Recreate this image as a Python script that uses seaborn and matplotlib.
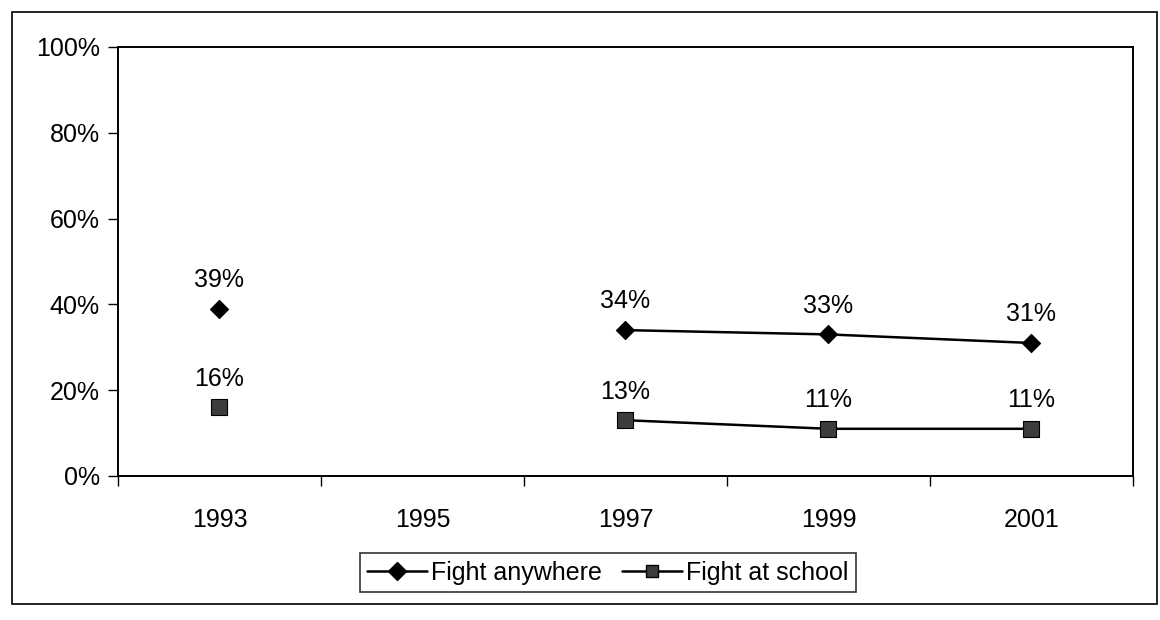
import numpy as np
import pandas as pd
import matplotlib
matplotlib.use("Agg")
import matplotlib.pyplot as plt
import seaborn as sns
from matplotlib.lines import Line2D
from matplotlib.patches import Rectangle

years = ["1993", "1995", "1997", "1999", "2001"]
fight_anywhere = [39, np.nan, 34, 33, 31]
fight_at_school = [16, np.nan, 13, 11, 11]
series_names = ["Fight anywhere", "Fight at school"]
y_ticks = [0, 20, 40, 60, 80, 100]

sns.set_theme(style="white")
plt.rcParams["font.family"] = ["Liberation Sans", "DejaVu Sans"]

rows = []
for name, vals in zip(series_names, [fight_anywhere, fight_at_school]):
    seg = 0
    for i, v in enumerate(vals):
        if np.isnan(v):
            seg += 1
            continue
        rows.append({"series": name, "pos": i, "value": v, "seg": seg})
df = pd.DataFrame(rows)

fig = plt.figure(figsize=(11.6, 6.2), dpi=100)
ax = fig.add_axes([0.1017, 0.2323, 0.875, 0.6919])

palette = {"Fight anywhere": "black", "Fight at school": "black"}
sns.lineplot(data=df, x="pos", y="value", hue="series", units="seg",
             estimator=None, palette=palette, linewidth=1.8, ax=ax, legend=False)

marker_style = {
    "Fight anywhere": dict(marker="D", s=85, color="black", edgecolor="black"),
    "Fight at school": dict(marker="s", s=120, color="#3c3c3c", edgecolor="black"),
}
for name in series_names:
    sub = df[df["series"] == name]
    sns.scatterplot(data=sub, x="pos", y="value", ax=ax, linewidth=0.8,
                    zorder=3, legend=False, **marker_style[name])
    for _, r in sub.iterrows():
        ax.annotate(f"{int(r['value'])}%", (r["pos"], r["value"]),
                    xytext=(0, 12), textcoords="offset points",
                    ha="center", va="bottom", fontsize=18, color="black")

ax.set_xlim(-0.5, len(years) - 0.5)
ax.set_ylim(0, 100)
ax.set_yticks(y_ticks)
ax.set_yticklabels([f"{t}%" for t in y_ticks], fontsize=18)
ax.set_xticks(np.arange(-0.5, len(years), 1.0))
ax.set_xticklabels([""] * (len(years) + 1))
ax.set_xticks(np.arange(len(years)), minor=True)
ax.set_xticklabels(years, minor=True, fontsize=18)
ax.tick_params(axis="x", which="major", direction="out", length=7, width=1, color="black", bottom=True)
ax.tick_params(axis="x", which="minor", length=0, pad=23)
ax.tick_params(axis="y", direction="out", length=7, width=1, color="black", left=True, pad=6)
for lbl in ax.get_xticklabels(minor=True) + ax.get_yticklabels():
    lbl.set_color("black")
ax.set_xlabel("")
ax.set_ylabel("")
for sp in ax.spines.values():
    sp.set_color("black")
    sp.set_linewidth(1.4)

handles = [
    Line2D([], [], color="black", linewidth=1.8, marker="D", markersize=9,
           markerfacecolor="black", markeredgecolor="black"),
    Line2D([], [], color="black", linewidth=1.8, marker="s", markersize=9,
           markerfacecolor="#3c3c3c", markeredgecolor="black"),
]
leg = fig.legend(handles, series_names, loc="center", bbox_to_anchor=(0.524, 0.076),
                 ncol=2, frameon=True, fancybox=False, fontsize=18, handlelength=2.4,
                 handletextpad=0.15, columnspacing=0.8, borderpad=0.3)
leg.get_frame().set_edgecolor("black")
leg.get_frame().set_linewidth(1.2)
for t in leg.get_texts():
    t.set_color("black")

fig.add_artist(Rectangle((0.0103, 0.026), 0.987, 0.955, transform=fig.transFigure,
                         fill=False, edgecolor="black", linewidth=1.2))

fig.savefig("out.png", dpi=100, facecolor="white")
